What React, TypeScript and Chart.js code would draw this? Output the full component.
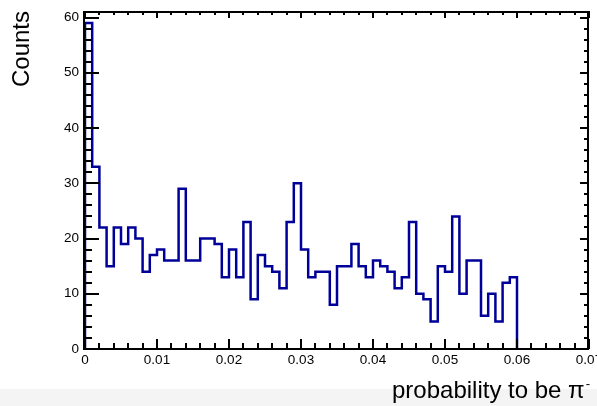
import React, { useEffect, useRef } from "react";
import { Chart, registerables } from "chart.js";

Chart.register(...registerables);

// ---- data ----
const binWidth = 0.001;
const counts = [
  59, 33, 22, 15, 22, 19, 22, 20, 14, 17,
  18, 16, 16, 29, 16, 16, 20, 20, 19, 13,
  18, 13, 23, 9, 17, 15, 14, 11, 23, 30,
  18, 13, 14, 14, 8, 15, 15, 19, 15, 13,
  16, 15, 14, 11, 13, 23, 10, 9, 5, 15,
  14, 24, 10, 16, 16, 6, 10, 5, 12, 13,
];
const xTickLabels = ["0", "0.01", "0.02", "0.03", "0.04", "0.05", "0.06", "0.07"];
const yTickLabels = ["0", "10", "20", "30", "40", "50", "60"];
const xTitle = "probability to be \u03c0";
const xTitleSup = "-";
const yTitle = "Counts";

const FONT = "'Liberation Sans', Arial, Helvetica, sans-serif";
const LINE_COLOR = "#000099";

const framePlugin = {
  id: "rootFrame",
  afterDatasetsDraw(chart: any) {
    const { ctx, chartArea, scales } = chart;
    const { left, right, top, bottom } = chartArea;
    const xs = scales.x;
    const ys = scales.y;
    ctx.save();
    ctx.fillStyle = "#000";
    // frame
    ctx.fillRect(left - 2, top - 1, 2, bottom - top + 2);
    ctx.fillRect(right - 2, top - 1, 2, bottom - top + 2);
    ctx.fillRect(left - 2, top - 1, right - left, 2);
    ctx.fillRect(left - 2, bottom - 1, right - left, 2);
    // x ticks
    xs.ticks.forEach((t: any, i: number) => {
      const px = Math.round(xs.getPixelForValue(t.value)) - 1;
      const major = i % 5 === 0;
      const lb = major ? 10 : 6;
      const lt = major ? 7 : 4;
      ctx.fillRect(px, bottom - lb, 2, lb);
      ctx.fillRect(px, top - 1, 2, lt);
    });
    // y ticks
    ys.ticks.forEach((t: any, i: number) => {
      const py = Math.round(ys.getPixelForValue(t.value)) - 1;
      const major = i % 5 === 0;
      const ll = major ? 15 : 8;
      const lr = major ? 9 : 5;
      ctx.fillRect(left - 1, py, ll, 2);
      ctx.fillRect(right - lr, py, lr, 2);
    });
    // titles
    ctx.fillStyle = "#000";
    ctx.font = `24px ${FONT}`;
    ctx.textBaseline = "alphabetic";
    ctx.textAlign = "left";
    ctx.fillText(xTitle, 392, 398);
    const w = ctx.measureText(xTitle).width;
    ctx.font = `13px ${FONT}`;
    ctx.fillText(xTitleSup, 392 + w + 1, 388);
    ctx.save();
    ctx.translate(29, 87);
    ctx.rotate(-Math.PI / 2);
    ctx.font = `24px ${FONT}`;
    ctx.fillText(yTitle, 0, 0);
    ctx.restore();
    ctx.restore();
  },
};

export default function App() {
  const ref = useRef<HTMLCanvasElement | null>(null);
  useEffect(() => {
    if (!ref.current) return;
    const n = counts.length;
    const points = [
      { x: 0, y: 0 },
      ...counts.map((c, i) => ({ x: i * binWidth, y: c })),
      { x: n * binWidth, y: counts[n - 1] },
      { x: n * binWidth, y: 0 },
    ];
    const chart = new Chart(ref.current, {
      type: "line",
      data: {
        datasets: [
          {
            data: points,
            stepped: "before",
            borderColor: LINE_COLOR,
            borderWidth: 2.5,
            pointRadius: 0,
            fill: false,
            tension: 0,
          },
        ],
      },
      options: {
        animation: false,
        responsive: false,
        devicePixelRatio: 1,
        layout: { padding: { left: 0, top: 12, right: 8, bottom: 0 } },
        plugins: { legend: { display: false }, tooltip: { enabled: false } },
        scales: {
          x: {
            type: "linear",
            min: 0,
            max: 0.07,
            grid: { display: false, drawTicks: false },
            border: { display: false },
            afterFit: (s: any) => {
              s.height = 57;
              s.paddingLeft = 0;
              s.paddingRight = 0;
            },
            ticks: {
              stepSize: 0.002,
              autoSkip: false,
              maxRotation: 0,
              includeBounds: false,
              padding: 3,
              color: "#000",
              font: { family: FONT, size: 13.5 },
              callback: (_v: any, i: number) => (i % 5 === 0 ? xTickLabels[i / 5] : ""),
            },
          },
          y: {
            type: "linear",
            min: 0,
            max: 61,
            grid: { display: false, drawTicks: false },
            border: { display: false },
            afterFit: (s: any) => {
              s.width = 85;
              s.paddingTop = 0;
              s.paddingBottom = 0;
            },
            ticks: {
              stepSize: 2,
              autoSkip: false,
              includeBounds: false,
              padding: 6,
              color: "#000",
              font: { family: FONT, size: 13.5 },
              callback: (_v: any, i: number) => (i % 5 === 0 ? yTickLabels[i / 5] : ""),
            },
          },
        },
      },
      plugins: [framePlugin],
    });
    return () => chart.destroy();
  }, []);
  return (
    <div
      style={{
        position: "fixed",
        left: 0,
        top: 0,
        width: 597,
        height: 406,
        background: "#fff",
        overflow: "hidden",
      }}
    >
      <div
        style={{
          position: "absolute",
          left: 0,
          top: 389,
          width: 597,
          height: 17,
          background: "#f4f4f4",
        }}
      />
      <canvas
        ref={ref}
        width={597}
        height={406}
        style={{ position: "absolute", left: 0, top: 0, width: 597, height: 406 }}
      />
    </div>
  );
}
